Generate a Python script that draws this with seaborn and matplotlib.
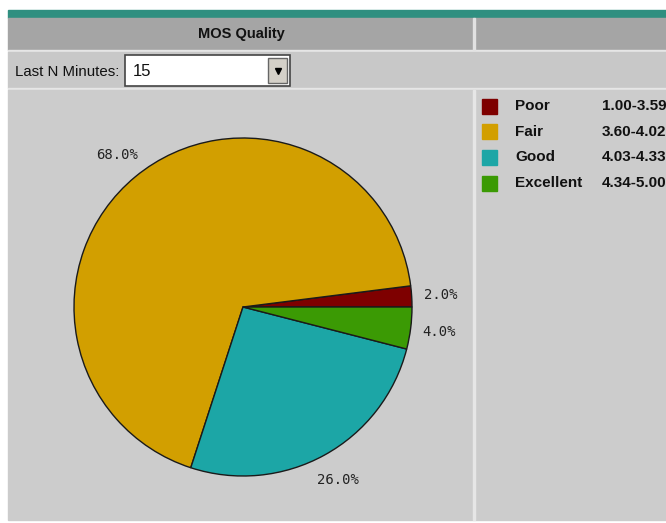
import seaborn as sns
import matplotlib.pyplot as plt
from matplotlib.patches import Rectangle

# data
categories = ["Poor", "Fair", "Good", "Excellent"]
shares = [2.0, 68.0, 26.0, 4.0]
mos_ranges = ["1.00-3.59", "3.60-4.02", "4.03-4.33", "4.34-5.00"]
colors = ["#7E0000", "#D29F00", "#1CA6A6", "#3B9A04"]
title = "MOS Quality"
minutes = "15"

sns.set_theme(style="white")
plt.rcParams['font.family'] = ['Liberation Sans', 'DejaVu Sans']

W, H = 666, 523
fig = plt.figure(figsize=(W / 100, H / 100), dpi=100)
ax = fig.add_axes([0, 0, 1, 1])


def rect(x, y, w, h, **kw):
    # x, y given from top-left like the screenshot
    ax.add_patch(Rectangle((x, H - y - h), w, h, zorder=0, **kw))


# page pieces
rect(0, 0, W, H, color="white")
rect(8, 10, W - 8, 8, color="#2F8F80")
rect(8, 18, W - 8, 32, color="#A5A5A5")
rect(8, 50, W - 8, 2, color="#E6E6E6")
rect(8, 52, W - 8, 36, color="#C8C8C8")
rect(8, 88, W - 8, 2, color="#E6E6E6")
rect(8, 90, W - 8, 430, color="#CCCCCC")
rect(473, 18, 2, 32, color="#E2E2E2")
rect(473, 90, 2, 430, color="#E6E6E6")

ax.text(241, H - 34, title, ha="center", va="center", fontsize=10.5,
        fontweight="bold", color="#111111")
ax.text(15, H - 72, "Last N Minutes:", ha="left", va="center", fontsize=10.8,
        color="#111111")

# dropdown
rect(125, 55, 165, 31, facecolor="white", edgecolor="#444444", linewidth=1.2)
rect(268, 58, 19, 25, facecolor="#D4D0C8", edgecolor="#666666", linewidth=1)
ax.plot([277.5], [H - 70.5], marker="v", color="black", markersize=5, zorder=3)
ax.text(133, H - 71, minutes, ha="left", va="center", fontsize=12,
        color="#111111")

# pie
wedges, texts, autotexts = ax.pie(
    shares, colors=colors, startangle=0, counterclock=True,
    center=(243, H - 307), radius=169, autopct="%.1f%%", pctdistance=1.17,
    wedgeprops=dict(edgecolor="#1a1a1a", linewidth=1.0),
    textprops=dict(family="DejaVu Sans Mono", fontsize=10, color="#222222"),
    frame=True)

# legend
for i, (cat, rng, col) in enumerate(zip(categories, mos_ranges, colors)):
    yc = 106 + i * 25.7
    rect(482, yc - 7.5, 15, 15, color=col)
    ax.text(515, H - yc, cat, ha="left", va="center", fontsize=11,
            fontweight="bold", color="#111111")
    ax.text(602, H - yc, rng, ha="left", va="center", fontsize=11,
            fontweight="bold", color="#111111")

ax.set_xlim(0, W)
ax.set_ylim(0, H)
ax.set_aspect("auto")
ax.axis("off")

fig.savefig("out.png", dpi=100)
